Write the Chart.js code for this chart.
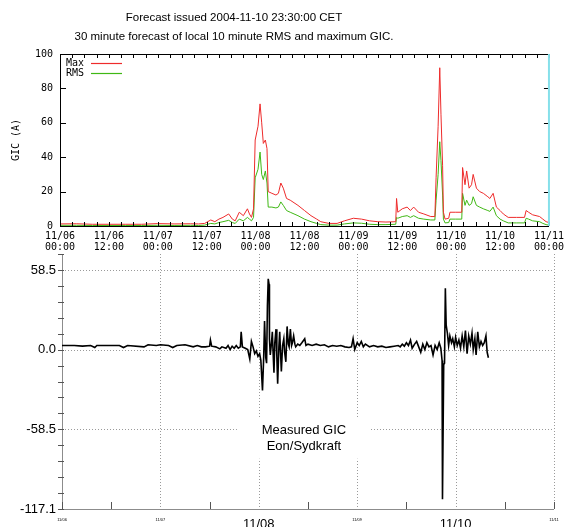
<!DOCTYPE html>
<html>
<head>
<meta charset="utf-8">
<script src="https://cdn.jsdelivr.net/npm/chart.js@4.4.0/dist/chart.umd.min.js"></script>
<style>
  html, body { margin: 0; padding: 0; background: #fff; }
  #wrap { position: relative; width: 569px; height: 527px; overflow: hidden; }
  #topChart { position: absolute; left: 0; top: 0; }
  #gicChart { position: absolute; left: 0; top: 240px; }
</style>
</head>
<body>
<div id="wrap">
  <canvas id="topChart" width="569" height="262"></canvas>
  <canvas id="gicChart" width="569" height="287"></canvas>
</div>
<script>
// Forecast panel: hours after 11/06 00:00 CET
const fcHours = [
  0, 4, 8, 12, 16, 20, 24, 28, 32, 34,
  35.5, 37, 38, 39, 40, 41.4, 42.3, 43, 44, 45,
  46, 46.5, 47, 47.5, 47.9, 48.6, 49.1, 49.5, 49.9, 50.4,
  50.8, 51.1, 52, 53, 53.6, 54.2, 54.8, 55.6, 56.5, 58.4,
  60, 61.6, 63, 64, 66, 68, 69.8, 72, 74, 76,
  78, 80, 82.4, 82.6, 82.9, 84, 85.2, 86, 86.8, 88,
  89.3, 91, 92, 92.3, 92.8, 93.2, 93.5, 93.9, 94.1, 94.5,
  95.4, 95.7, 97, 98.6, 98.8, 99.4, 99.8, 100.4, 101, 101.4,
  102.2, 103, 103.9, 105, 105.5, 106.3, 107.1, 108, 108.8, 110,
  112, 114, 114.4, 115, 116, 117.7, 118.5, 119.3, 120
];
const maxGic = [
  1.2, 1.3, 1.0, 1.0, 1.0, 1.0, 1.4, 1.2, 1.3, 1.2,
  1.5, 3.5, 2.5, 4, 5, 7, 4, 3, 8, 6,
  10, 7, 5, 10, 50, 58, 71, 60, 48, 50,
  45, 20, 19, 18, 19, 25, 22, 16, 15, 12,
  9, 6, 4, 2.5, 1.5, 1.5, 3, 4.5, 4, 3,
  2.5, 2.3, 2.5, 16, 8, 10, 11, 9, 11, 8,
  7, 5.5, 5.5, 28, 58, 92, 65, 35, 8, 4,
  4.5, 8, 8, 8, 34, 24, 32, 22, 24, 30,
  22, 20, 19, 17, 16, 19, 11, 9, 7, 5,
  5, 5, 9, 8, 6.5, 5.5, 4, 2.5, 2
];
const rmsGic = [
  0.4, 0.4, 0.3, 0.3, 0.3, 0.3, 0.4, 0.3, 0.4, 0.3,
  0.5, 1.5, 1.2, 2, 2.5, 3.3, 2, 1.5, 4, 3,
  5, 4, 3, 5, 28, 33, 43, 30, 27, 32,
  25, 11, 11, 10.5, 11, 14, 12, 9, 8, 6,
  4, 2.5, 1.5, 0.8, 0.5, 0.5, 1.2, 1.8, 1.6, 1,
  0.8, 0.8, 1, 5, 4.5, 5.5, 6, 5, 6, 4.5,
  4, 3.5, 3.5, 15, 30, 49, 38, 18, 4, 1.8,
  2, 4, 4, 4, 19, 12, 15, 12, 13, 17,
  12, 11, 10, 9, 8.5, 11, 6, 4, 3, 1.8,
  1.8, 1.8, 4.5, 4, 3, 2.5, 1.5, 0.8, 0.5
];
const fcTickLabels = [
  ['11/06', '00:00'], ['11/06', '12:00'], ['11/07', '00:00'], ['11/07', '12:00'],
  ['11/08', '00:00'], ['11/08', '12:00'], ['11/09', '00:00'], ['11/09', '12:00'],
  ['11/10', '00:00'], ['11/10', '12:00'], ['11/11', '00:00']
];
const titleLines = [
  'Forecast issued 2004-11-10 23:30:00 CET',
  '30 minute forecast of local 10 minute RMS and maximum GIC.'
];

// Measured GIC panel
const gicHours = [
  0, 3, 5, 7, 8, 8.5, 12, 14, 15, 16,
  20, 21, 23, 24, 26, 27, 28, 30, 32, 33,
  34, 35, 36, 36.2, 36.5, 37.5, 38.5, 39, 40, 40.5,
  41, 41.5, 42, 42.5, 43, 43.5, 43.7, 44, 44.7, 45.3,
  45.8, 46.2, 46.6, 47, 47.4, 47.8, 48.2, 48.5, 48.9, 49.2,
  49.4, 49.7, 49.9, 50.1, 50.3, 50.5, 50.6, 50.8, 51.1, 51.3,
  51.5, 51.7, 51.9, 52.2, 52.4, 52.6, 52.9, 53.1, 53.3, 53.5,
  53.8, 54.1, 54.3, 54.6, 54.9, 55.2, 55.4, 55.7, 56, 56.2,
  56.5, 56.8, 57, 57.5, 58, 58.5, 59.2, 59.5, 60, 61,
  62, 63, 64, 65, 66, 67, 68, 69, 70, 70.6,
  71, 71.4, 72, 72.5, 73, 73.5, 74, 75, 76, 77,
  78, 79, 80, 81, 82, 82.5, 83, 83.5, 84, 84.5,
  85, 85.4, 86, 86.5, 87, 87.5, 88, 88.5, 89, 89.5,
  90, 90.5, 91, 91.5, 92, 92.4, 92.7, 92.8, 93.1, 93.3,
  93.5, 93.7, 94, 94.3, 94.6, 95, 95.3, 95.7, 96, 96.4,
  96.8, 97.2, 97.6, 98, 98.4, 98.8, 99.2, 99.6, 100, 100.3,
  100.7, 101, 101.4, 101.8, 102.2, 102.6, 103, 103.4, 103.7, 104
];
const gicValues = [
  3, 3, 2.5, 3, 1.5, 3, 3, 3, 1.5, 3,
  2, 3.5, 3, 3.5, 3, 1.5, 3, 3.5, 2, 3,
  2, 2, 2.5, 7, 2.5, 2, 0.5, 2, 1, 3,
  0, 2.5, 1, 3, 1, 2, 13, 2, 1, 0,
  -7, 6, 2, -3, -1, -5, -3, -8, -30, -5,
  21, -6, -10, 32, 52, 48, 8, -4, 5, 13,
  -3, -17, 5, 15, -5, -25, 2, 13, -2, -16,
  3, 8, -2, -9, 17, 4, 2, 15, 3, 5,
  10, 4, 2, 4, 3, 5, 8, 3, 4, 3,
  4, 3, 3.5, 2, 3, 2.5, 3, 2, 1.5, 2,
  8, 0, 5, 3, 6, 2, 4, 2, 3, 2,
  2.5, 1.5, 2, 2.5, 3, 2, 4, 2.5, 5, 3,
  7, 1, 4, 6, 2, -2, 4, 0, 5, 2,
  3, -4, 3, 0, 5, 1, -8, -110, -11, -10,
  45, 18, 12, 3, 10, 5, 8, 2, 9, 3,
  7, 1, 10, 2, 14, -3, 10, 4, 12, 0,
  8, -4, 13, 2, 6, 3, 5, 10, -2, -6
];
const gicTickValues = [-117.1, -58.5, 0, 58.5];
const gicDayLabels = ['11/06', '11/07', '11/08', '11/09', '11/10', '11/11'];
const gicNote = ['Measured GIC', 'Eon/Sydkraft'];

const maxColor = '#ee2b2b';
const rmsColor = '#3fb814';
const mono = '"DejaVu Sans Mono", monospace';
const sans = '"Liberation Sans", Arial, sans-serif';

document.addEventListener("DOMContentLoaded", () => {
  // frame, ticks, titles and legend of the forecast panel
  const fcFrame = {
    id: 'fcFrame',
    afterDraw(chart) {
      const { ctx, chartArea: a, scales: { x, y } } = chart;
      ctx.save();
      ctx.fillStyle = '#000';
      ctx.font = '11.5px ' + sans;
      ctx.textAlign = 'center';
      ctx.fillText(titleLines[0], 234, 21);
      ctx.fillText(titleLines[1], 234, 40);

      ctx.strokeStyle = '#000';
      ctx.lineWidth = 1;
      ctx.beginPath();
      ctx.moveTo(a.left + 0.5, a.top);
      ctx.lineTo(a.left + 0.5, a.bottom + 0.5);
      ctx.lineTo(a.right, a.bottom + 0.5);
      ctx.moveTo(a.left, a.top + 0.5);
      ctx.lineTo(a.right, a.top + 0.5);
      for (let h = 0; h <= 120; h += 3) {
        const px = Math.round(x.getPixelForValue(h)) + 0.5;
        ctx.moveTo(px, a.top);
        ctx.lineTo(px, a.top + 4);
        ctx.moveTo(px, a.bottom);
        ctx.lineTo(px, a.bottom - 4);
      }
      for (let v = 0; v <= 100; v += 20) {
        const py = Math.round(y.getPixelForValue(v)) + 0.5;
        ctx.moveTo(a.left, py);
        ctx.lineTo(a.left + 6, py);
        ctx.moveTo(a.right, py);
        ctx.lineTo(a.right - 5, py);
      }
      ctx.stroke();
      ctx.strokeStyle = '#86e0ea';
      ctx.lineWidth = 2;
      ctx.beginPath();
      ctx.moveTo(a.right, a.top);
      ctx.lineTo(a.right, a.bottom);
      ctx.stroke();

      // legend: text first, then line sample
      ctx.font = '10px ' + mono;
      ctx.textAlign = 'left';
      ctx.textBaseline = 'middle';
      ctx.lineWidth = 1.2;
      [['Max', maxColor], ['RMS', rmsColor]].forEach(([name, col], i) => {
        const ly = Math.round(a.top + 9 + i * 10);
        ctx.fillStyle = '#000';
        ctx.fillText(name, a.left + 6, ly);
        ctx.strokeStyle = col;
        ctx.beginPath();
        ctx.moveTo(a.left + 31, ly + 0.5);
        ctx.lineTo(a.left + 62, ly + 0.5);
        ctx.stroke();
      });
      ctx.restore();
    }
  };

  const topCtx = document.getElementById('topChart').getContext('2d');
  new Chart(topCtx, {
    type: 'line',
    data: {
      datasets: [
        {
          label: 'Max',
          data: fcHours.map((h, i) => ({ x: h, y: maxGic[i] })),
          borderColor: maxColor,
          borderWidth: 1,
          pointRadius: 0
        },
        {
          label: 'RMS',
          data: fcHours.map((h, i) => ({ x: h, y: rmsGic[i] })),
          borderColor: rmsColor,
          borderWidth: 1,
          pointRadius: 0
        }
      ]
    },
    options: {
      responsive: false,
      animation: false,
      layout: { padding: { top: 54, right: 16, left: 0, bottom: 0 } },
      plugins: { legend: { display: false }, tooltip: { enabled: false } },
      scales: {
        x: {
          type: 'linear',
          min: 0,
          max: 120,
          afterFit: s => { s.height = 36; },
          grid: { display: false, drawTicks: false },
          border: { display: false },
          ticks: {
            stepSize: 12,
            autoSkip: false,
            maxRotation: 0,
            padding: 5,
            color: '#000',
            font: { family: mono, size: 10, lineHeight: 1.1 },
            callback: v => fcTickLabels[Math.round(v / 12)]
          }
        },
        y: {
          min: 0,
          max: 100,
          afterFit: s => { s.width = 60; },
          grid: { display: false, drawTicks: false },
          border: { display: false },
          ticks: {
            stepSize: 20,
            padding: 7,
            color: '#000',
            font: { family: mono, size: 10 }
          },
          title: {
            display: true,
            text: 'GIC (A)',
            color: '#000',
            font: { family: mono, size: 10 },
            padding: { top: 10, bottom: 0 }
          }
        }
      }
    },
    plugins: [fcFrame]
  });

  // grid, axes and the note box of the measured panel
  const gicFrame = {
    id: 'gicFrame',
    beforeDatasetsDraw(chart) {
      const { ctx, chartArea: a, scales: { x, y } } = chart;
      ctx.save();
      ctx.strokeStyle = '#9a9a9a';
      ctx.lineWidth = 1;
      ctx.setLineDash([1, 2]);
      ctx.beginPath();
      gicTickValues.forEach(v => {
        if (v === y.min) return;
        const py = Math.round(y.getPixelForValue(v)) + 0.5;
        ctx.moveTo(a.left, py);
        ctx.lineTo(a.right, py);
      });
      for (let h = 24; h <= 120; h += 24) {
        const px = Math.round(x.getPixelForValue(h)) + 0.5;
        ctx.moveTo(px, a.top);
        ctx.lineTo(px, a.bottom);
      }
      ctx.stroke();
      ctx.setLineDash([]);

      ctx.strokeStyle = '#8c8c8c';
      ctx.beginPath();
      ctx.moveTo(a.left + 0.5, a.top);
      ctx.lineTo(a.left + 0.5, a.bottom + 0.5);
      ctx.lineTo(a.right, a.bottom + 0.5);
      ctx.stroke();

      ctx.strokeStyle = '#555';
      ctx.beginPath();
      const step = (y.max - y.min) / 16;
      for (let k = 0; k <= 16; k++) {
        const py = Math.round(y.getPixelForValue(y.min + k * step)) + 0.5;
        ctx.moveTo(a.left - 4, py);
        ctx.lineTo(a.left + 2, py);
      }
      for (let h = 0; h <= 120; h += 12) {
        if (h % 24 === 0 && h !== 0 && h !== 120) continue;
        const px = Math.round(x.getPixelForValue(h)) + 0.5;
        ctx.moveTo(px, a.bottom);
        ctx.lineTo(px, a.bottom - 7);
      }
      ctx.stroke();
      ctx.restore();
    },
    afterDraw(chart) {
      const { ctx, scales: { x, y } } = chart;
      const cx = x.getPixelForValue(59);
      const cy = y.getPixelForValue(-65.5);
      ctx.save();
      ctx.fillStyle = '#fff';
      ctx.fillRect(cx - 67, cy - 20, 134, 40);
      ctx.fillStyle = '#000';
      ctx.font = '13px ' + sans;
      ctx.textAlign = 'center';
      ctx.textBaseline = 'middle';
      ctx.fillText(gicNote[0], cx, cy - 8);
      ctx.fillText(gicNote[1], cx, cy + 8);
      ctx.restore();
    }
  };

  const gicCtx = document.getElementById('gicChart').getContext('2d');
  new Chart(gicCtx, {
    type: 'line',
    data: {
      datasets: [{
        label: 'Measured GIC',
        data: gicHours.map((h, i) => ({ x: h, y: gicValues[i] })),
        borderColor: '#000',
        borderWidth: 1.6,
        pointRadius: 0
      }]
    },
    options: {
      responsive: false,
      animation: false,
      layout: { padding: { top: 14, right: 15, left: 0, bottom: 0 } },
      plugins: { legend: { display: false }, tooltip: { enabled: false } },
      scales: {
        x: {
          type: 'linear',
          min: 0,
          max: 120,
          afterFit: s => { s.height = 18; },
          grid: { display: false, drawTicks: false },
          border: { display: false },
          ticks: {
            stepSize: 24,
            autoSkip: false,
            maxRotation: 0,
            padding: 8,
            color: '#000',
            font: c => ({ family: sans, size: (c.tick && (c.tick.value === 48 || c.tick.value === 96)) ? 13 : 4 }),
            callback: v => gicDayLabels[Math.round(v / 24)]
          }
        },
        y: {
          min: -117.1,
          max: 70.2,
          afterFit: s => { s.width = 62; },
          afterBuildTicks: s => { s.ticks = gicTickValues.map(v => ({ value: v })); },
          grid: { display: false, drawTicks: false },
          border: { display: false },
          ticks: {
            padding: 6,
            color: '#000',
            font: { family: sans, size: 13 },
            callback: v => v.toFixed(1)
          }
        }
      }
    },
    plugins: [gicFrame]
  });
});
</script>
</body>
</html>
